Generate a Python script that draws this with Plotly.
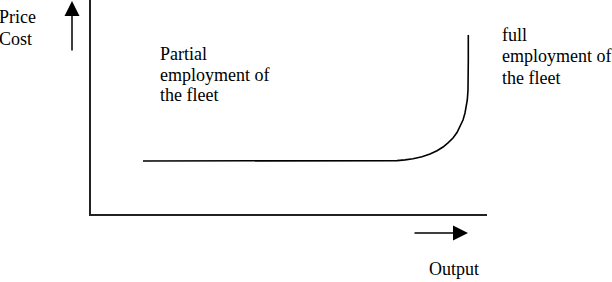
import plotly.graph_objects as go

# ---- data (schematic units: pixels of a 612x282 canvas, y measured downward) ----
curve_output = [143, 380, 389, 397, 405, 413, 422, 430, 437, 443, 448, 453, 457, 460, 463, 465, 466.5, 467.3, 468, 468.3, 468.3, 468.3]
curve_cost = [161, 161, 160.9, 160.6, 159.9, 158.8, 156.7, 154, 150.8, 147, 142.8, 138, 132.5, 126.7, 120, 113, 106.5, 100, 90, 80, 60, 35]

axis_x = [90, 90, 487]
axis_y = [0, 215, 215]

label_price = ["Price", "Cost"]
label_partial = ["Partial", "employment of", "the fleet"]
label_full = ["full", "employment of", "the fleet"]
label_output = "Output"

FONT = "Liberation Serif, Times New Roman, serif"
FS = 18

fig = go.Figure()
fig.add_trace(go.Scatter(x=axis_x, y=axis_y, mode="lines",
                         line=dict(color="#222222", width=2), hoverinfo="skip"))
fig.add_trace(go.Scatter(x=curve_output, y=curve_cost, mode="lines",
                         line=dict(color="black", width=1.6, shape="linear"),
                         hoverinfo="skip"))

ann = []
# arrows
ann.append(dict(x=72, y=1, ax=72, ay=52, xref="x", yref="y", axref="x", ayref="y",
                text="", showarrow=True, arrowhead=2, arrowsize=2, arrowwidth=1.5,
                arrowcolor="black", standoff=0))
ann.append(dict(x=468, y=233, ax=413, ay=233, xref="x", yref="y", axref="x", ayref="y",
                text="", showarrow=True, arrowhead=2, arrowsize=2, arrowwidth=1.5,
                arrowcolor="black", standoff=0))

def txt(x, y, s, xshift=0):
    ann.append(dict(x=x, y=y, xref="x", yref="y", text=s, showarrow=False,
                    xanchor="left", yanchor="middle", xshift=xshift,
                    font=dict(family=FONT, size=FS, color="black")))

for i, s in enumerate(label_price):
    txt(0, 17 + i * 22, s, xshift=-3)
for i, s in enumerate(label_partial):
    txt(158, 54 + i * 20.5, s)
for i, s in enumerate(label_full):
    txt(500, 35 + i * 21.3, s)
txt(427, 269, label_output)

fig.update_layout(
    width=612, height=282,
    margin=dict(l=0, r=0, t=0, b=0),
    paper_bgcolor="white", plot_bgcolor="white",
    showlegend=False,
    xaxis=dict(range=[0, 612], visible=False, fixedrange=True),
    yaxis=dict(range=[282, 0], visible=False, fixedrange=True),
    annotations=ann,
)
fig.write_html("out.html")
